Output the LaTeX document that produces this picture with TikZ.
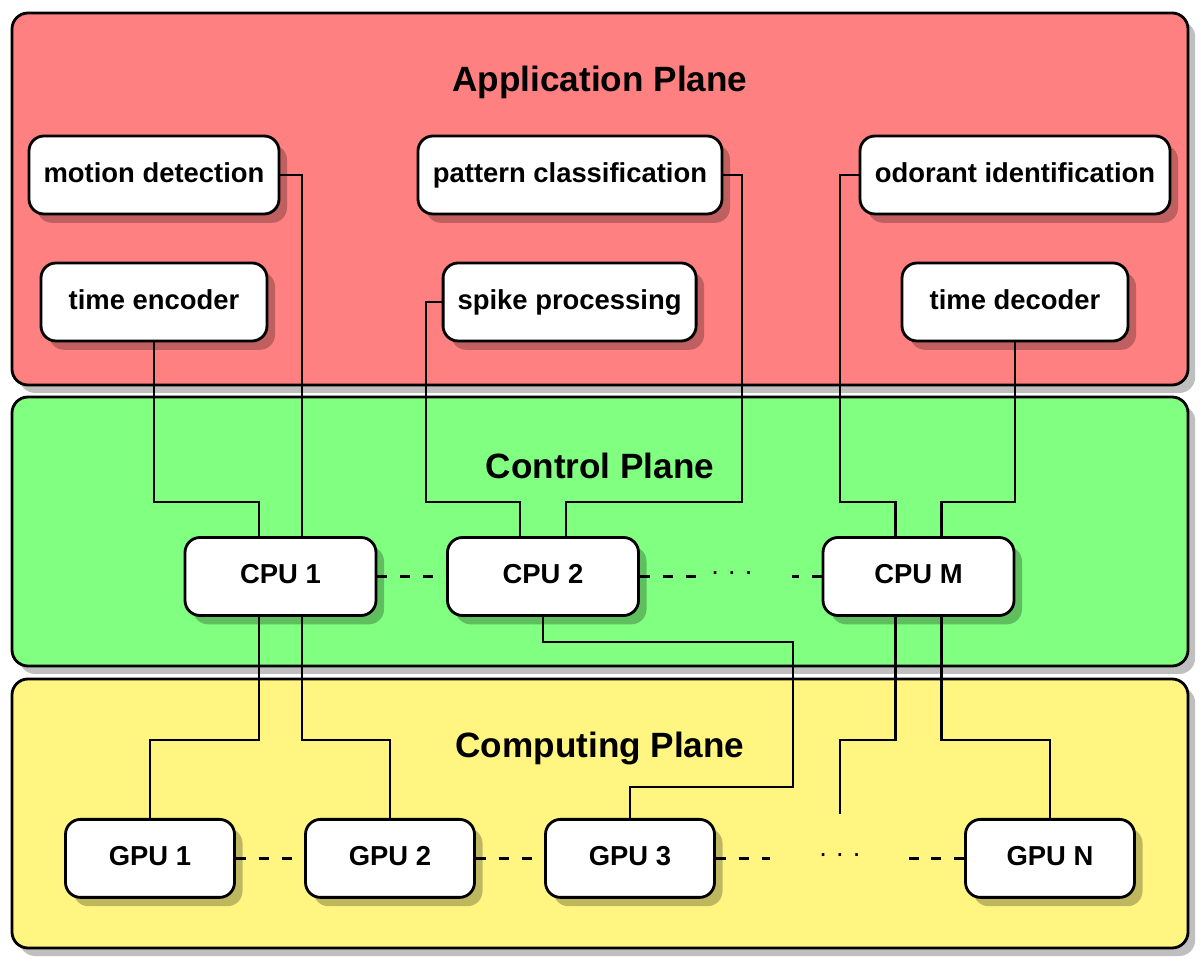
\documentclass[tikz,border=0pt]{standalone}
\usepackage{fontspec}
\setmainfont{Liberation Sans}
\usetikzlibrary{shadows}

\definecolor{appred}{RGB}{255,128,128}
\definecolor{ctrlgreen}{RGB}{128,255,128}
\definecolor{compyellow}{RGB}{255,245,128}

\begin{document}
\begin{tikzpicture}[
    panel/.style={draw=black, line width=2pt, rounded corners=0.4cm,
      drop shadow={shadow xshift=0.18cm, shadow yshift=-0.2cm, opacity=1, fill=black!25}},
    planetitle/.style={font=\fontsize{25}{30}\selectfont\bfseries},
    procbox/.style={draw=black, fill=white, line width=2pt, rounded corners=0.375cm,
      minimum height=1.95cm, inner sep=0pt, font=\fontsize{19.5}{23}\selectfont\bfseries,
      text height=1.0em, text depth=0pt,
      drop shadow={shadow xshift=0.2cm, shadow yshift=-0.22cm, opacity=0.25, fill=black}},
    wire/.style={line width=1.9pt},
    dashlink/.style={line width=1.9pt, dash pattern=on 0.25cm off 0.32cm},
    dotsnode/.style={font=\fontsize{19.5}{23}\selectfont, inner sep=0pt}
  ]

    \useasboundingbox (0,0) rectangle (30,24.05);

    % Planes
    \draw[panel, fill=appred] (0.3,14.425) rectangle (29.7,23.725);
    \draw[panel, fill=ctrlgreen] (0.3,7.4) rectangle (29.7,14.125);
    \draw[panel, fill=compyellow] (0.3,0.35) rectangle (29.7,7.075);

    \node[planetitle] (apptitle) at (15,22.0) {Application Plane};
    \node[planetitle] (ctrltitle) at (15,12.4) {Control Plane};
    \node[planetitle] (comptitle) at (15,5.34) {Computing Plane};

    % Application plane
    \node[procbox, minimum width=6.25cm] (motion) at (3.85,19.675) {motion detection};
    \node[procbox, minimum width=5.65cm] (tenc) at (3.85,16.5) {time encoder};
    \node[procbox, minimum width=7.6cm] (pattern) at (14.25,19.675) {pattern classification};
    \node[procbox, minimum width=6.325cm] (spike) at (14.24,16.5) {spike processing};
    \node[procbox, minimum width=7.75cm] (odorant) at (25.375,19.675) {odorant identification};
    \node[procbox, minimum width=5.65cm] (tdec) at (25.375,16.5) {time decoder};

    % Control plane
    \node[procbox, minimum width=4.775cm] (cpu1) at (7.0125,9.6375) {CPU 1};
    \node[procbox, minimum width=4.775cm] (cpu2) at (13.575,9.6375) {CPU 2};
    \node[procbox, minimum width=4.775cm] (cpum) at (22.9625,9.6375) {CPU M};
    \node[dotsnode] (dots1) at (18.3,9.6375) {· · ·};

    % Computing plane
    \node[procbox, minimum width=4.225cm] (gpu1) at (3.75,2.59) {GPU 1};
    \node[procbox, minimum width=4.225cm] (gpu2) at (9.75,2.59) {GPU 2};
    \node[procbox, minimum width=4.225cm] (gpu3) at (15.75,2.59) {GPU 3};
    \node[procbox, minimum width=4.225cm] (gpun) at (26.25,2.59) {GPU N};
    \node[dotsnode] (dots2) at (21.0,2.59) {· · ·};

    %% Applications to CPUs
    \draw[wire] ([xshift=-0.54cm]cpu1.north) |- (3.85,11.5) -- (tenc.south);
    \draw[wire] ([xshift=0.54cm]cpu1.north) |- (motion.east);
    \draw[wire] ([xshift=-0.575cm]cpu2.north) |- (10.65,11.5) |- (spike.west);
    \draw[wire] ([xshift=0.575cm]cpu2.north) |- (18.55,11.5) |- (pattern.east);
    \draw[wire] ([xshift=-0.575cm]cpum.north) |- (21.0,11.5) |- (odorant.west);
    \draw[wire] ([xshift=0.575cm]cpum.north) |- (25.375,11.5) -- (tdec.south);

    %% CPUs to GPUs
    \coordinate (spare) at (21.0,3.7);
    \draw[wire] ([xshift=-0.54cm]cpu1.south) |- (3.75,5.55) -- (gpu1.north);
    \draw[wire] ([xshift=0.54cm]cpu1.south) |- (9.75,5.55) -- (gpu2.north);
    \draw[wire] (cpu2.south) |- (19.825,8.0) |- (15.75,4.375) -- (gpu3.north);
    \draw[wire] ([xshift=-0.575cm]cpum.south) |- (21.0,5.55) -- (spare);
    \draw[wire] ([xshift=0.575cm]cpum.south) |- (26.25,5.55) -- (gpun.north);

    %% Links within a plane
    \draw[dashlink] (cpu1.east) -- (cpu2.west);
    \draw[dashlink, shorten >=0.1cm] (cpu2.east) -- (dots1.west);
    \draw[dashlink, shorten >=0.95cm] (cpum.west) -- (dots1.east);
    \draw[dashlink] (gpu1.east) -- (gpu2.west);
    \draw[dashlink] (gpu2.east) -- (gpu3.west);
    \draw[dashlink, shorten >=1.2cm] (gpu3.east) -- (dots2.west);
    \draw[dashlink, shorten >=1.0cm] (gpun.west) -- (dots2.east);

\end{tikzpicture}
\end{document}
